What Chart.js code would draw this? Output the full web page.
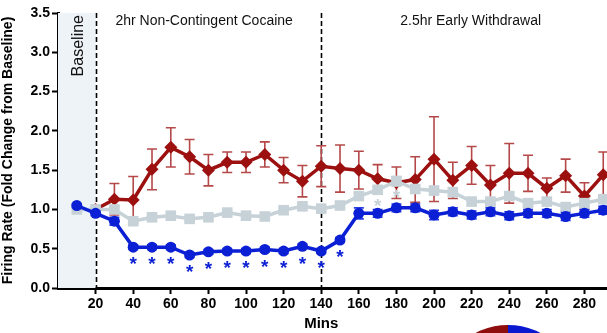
<!DOCTYPE html>
<html>
<head>
<meta charset="utf-8">
<script src="https://cdn.jsdelivr.net/npm/chart.js@4"></script>
<style>
html,body{margin:0;padding:0;background:#fff;}
canvas{display:block;}
</style>
</head>
<body>
<canvas id="c" width="607" height="333"></canvas>
<script>
// ---- data ----
const mins = [10,20,30,40,50,60,70,80,90,100,110,120,130,140,150,160,170,180,190,200,210,220,230,240,250,260,270,280,290];
const redVals  = [null,1.00,1.13,1.12,1.51,1.79,1.67,1.50,1.60,1.60,1.70,1.50,1.36,1.55,1.52,1.50,1.39,1.34,1.38,1.64,1.37,1.56,1.31,1.46,1.46,1.27,1.43,1.17,1.44];
const redErr   = [null,0,0.20,0.30,0.26,0.25,0.22,0.20,0.13,0.13,0.16,0.16,0.20,0.26,0.30,0.24,0.18,0.20,0.29,0.54,0.23,0.24,0.25,0.38,0.23,0.13,0.21,0.17,0.29];
const grayVals = [1.00,1.00,1.00,0.85,0.90,0.92,0.88,0.90,0.96,0.92,0.91,0.99,1.04,1.01,1.05,1.17,1.25,1.36,1.26,1.24,1.22,1.10,1.10,1.17,1.08,1.10,1.03,1.08,1.13];
const grayErr  = [0.02,0.02,0.03,0.03,0.03,0.03,0.03,0.03,0.03,0.03,0.03,0.03,0.04,0.04,0.04,0.05,0.05,0.06,0.05,0.05,0.05,0.04,0.04,0.04,0.04,0.04,0.04,0.04,0.04];
const blueVals = [1.05,0.95,0.85,0.52,0.52,0.52,0.42,0.46,0.47,0.47,0.49,0.47,0.53,0.47,0.61,0.95,0.95,1.02,1.02,0.93,0.97,0.93,0.97,0.92,0.95,0.95,0.91,0.95,0.99];
const blueErr  = [0.02,0.03,0.05,0.03,0.03,0.03,0.03,0.03,0.03,0.03,0.03,0.03,0.03,0.03,0.03,0.07,0.05,0.05,0.05,0.06,0.05,0.05,0.05,0.05,0.05,0.05,0.05,0.05,0.05];
const blueSig = [40,50,60,70,80,90,100,110,120,130,140,150];
const graySig = [170,180];
const xTicks = [20,40,60,80,100,120,140,160,180,200,220,240,260,280];
const yTicks = [0,0.5,1,1.5,2,2.5,3,3.5];
const phaseLines = [20,140];
const baselineRange = [0,20];
const labels = {
  baseline: 'Baseline',
  cocaine: '2hr Non-Contingent Cocaine',
  withdrawal: '2.5hr Early Withdrawal',
  xTitle: 'Mins',
  yTitle: 'Firing Rate (Fold Change from Baseline)'
};

const RED = '#9c1010', RED_ERR = '#b54848';
const GRAY = '#c6d2d7', GRAY_ERR = '#c6d2d7';
const BLUE = '#0b1fd4', BLUE_ERR = '#2a3fe0';

function pts(vals){ return mins.map((m,i)=>({x:m,y:vals[i]})); }

const decor = {
  id:'decor',
  beforeDatasetsDraw(chart){
    const {ctx, chartArea:a, scales:{x,y}} = chart;
    ctx.save();
    ctx.fillStyle = '#eef3f8';
    ctx.fillRect(x.getPixelForValue(baselineRange[0]), a.top, x.getPixelForValue(baselineRange[1]) - x.getPixelForValue(baselineRange[0]), a.bottom - a.top);
    ctx.strokeStyle = '#000'; ctx.lineWidth = 1.6; ctx.setLineDash([5,3]);
    phaseLines.forEach(v=>{
      const px = Math.round(x.getPixelForValue(v))+0.5;
      ctx.beginPath(); ctx.moveTo(px, a.top); ctx.lineTo(px, a.bottom); ctx.stroke();
    });
    ctx.setLineDash([]);
    ctx.fillStyle = '#111';
    ctx.font = '14px "Liberation Sans", Arial, sans-serif';
    ctx.textBaseline = 'alphabetic'; ctx.textAlign = 'left';
    ctx.fillText(labels.cocaine, x.getPixelForValue(30) + 1, 25);
    ctx.fillText(labels.withdrawal, x.getPixelForValue(140) + 79, 25);
    ctx.save();
    ctx.translate(x.getPixelForValue(10) + 6, 15);
    ctx.rotate(-Math.PI/2);
    ctx.font = '16px "Liberation Sans", Arial, sans-serif';
    ctx.textAlign = 'right';
    ctx.fillText(labels.baseline, 0, 0);
    ctx.restore();
    // x title
    ctx.fillStyle = '#000';
    ctx.font = 'bold 15px "Liberation Sans", Arial, sans-serif';
    ctx.textAlign = 'center'; ctx.textBaseline = 'middle';
    ctx.fillText(labels.xTitle, x.getPixelForValue(140), 324);
    ctx.restore();
  },
  beforeDatasetDraw(chart, args){
    const ds = chart.data.datasets[args.index];
    if(!ds.errors) return;
    const {ctx, scales:{x,y}} = chart;
    ctx.save();
    ctx.strokeStyle = ds.errColor; ctx.lineWidth = 1.6;
    ds.data.forEach((p,i)=>{
      const e = ds.errors[i];
      if(p.y==null || !e) return;
      const px = x.getPixelForValue(p.x);
      const y1 = y.getPixelForValue(p.y + e), y2 = y.getPixelForValue(p.y - e);
      ctx.beginPath();
      ctx.moveTo(px, y1); ctx.lineTo(px, y2);
      ctx.moveTo(px-5, y1); ctx.lineTo(px+5, y1);
      ctx.moveTo(px-5, y2); ctx.lineTo(px+5, y2);
      ctx.stroke();
    });
    ctx.restore();
  },
  afterDatasetsDraw(chart){
    const {ctx, scales:{x,y}} = chart;
    ctx.save();
    ctx.font = 'bold 19px "Liberation Sans", Arial, sans-serif';
    ctx.textAlign = 'center'; ctx.textBaseline = 'middle';
    ctx.fillStyle = BLUE;
    blueSig.forEach(m=>{
      const i = mins.indexOf(m);
      ctx.fillText('*', x.getPixelForValue(m), y.getPixelForValue(blueVals[i]) + 18);
    });
    ctx.fillStyle = GRAY;
    graySig.forEach(m=>{
      const i = mins.indexOf(m);
      ctx.fillText('*', x.getPixelForValue(m), y.getPixelForValue(grayVals[i]) + 17);
    });
    ctx.restore();
  },
  afterDraw(chart){
    const ctx = chart.ctx;
    ctx.save();
    const cx = 508, cy = 395, r = 70;
    ctx.fillStyle = '#8e0d0d';
    ctx.beginPath(); ctx.moveTo(cx,cy); ctx.arc(cx,cy,r,Math.PI,1.5*Math.PI); ctx.closePath(); ctx.fill();
    ctx.fillStyle = '#0a18d0';
    ctx.beginPath(); ctx.moveTo(cx,cy); ctx.arc(cx,cy,r,1.5*Math.PI,2*Math.PI); ctx.closePath(); ctx.fill();
    ctx.restore();
  }
};

const tickFont = {family:'"Liberation Sans", Arial, sans-serif', size:14, weight:'bold'};

new Chart(document.getElementById('c'), {
  type:'line',
  data:{
    datasets:[
      {label:'Blue', data:pts(blueVals), errors:blueErr, errColor:BLUE_ERR, borderColor:BLUE, backgroundColor:BLUE, borderWidth:3.5, pointStyle:'circle', pointRadius:5.5, pointBorderWidth:0, tension:0},
      {label:'Gray', data:pts(grayVals), errors:grayErr, errColor:GRAY_ERR, borderColor:GRAY, backgroundColor:GRAY, borderWidth:3.5, pointStyle:'rect', pointRadius:7.5, pointBorderWidth:0, tension:0},
      {label:'Red', data:pts(redVals), errors:redErr, errColor:RED_ERR, borderColor:RED, backgroundColor:RED, borderWidth:3.5, pointStyle:'rectRot', pointRadius:6.5, pointBorderWidth:0, tension:0, spanGaps:false}
    ]
  },
  options:{
    responsive:false, animation:false,
    layout:{autoPadding:false, padding:{top:13, right:0, left:0, bottom:0}},
    plugins:{legend:{display:false}, tooltip:{enabled:false}},
    scales:{
      x:{
        type:'linear', min:0, max:292,
        afterBuildTicks(s){ s.ticks = xTicks.map(v=>({value:v})); },
        afterFit(s){ s.height = 45; s.paddingRight = 0; s.paddingLeft = 0; },
        grid:{display:true, drawOnChartArea:false, drawTicks:true, tickLength:6, tickColor:'#000', tickWidth:2},
        border:{display:true, color:'#000', width:3},
        ticks:{color:'#000', font:tickFont, padding:2, maxRotation:0, autoSkip:false},
        title:{display:false}
      },
      y:{
        min:0, max:3.5,
        afterBuildTicks(s){ s.ticks = yTicks.map(v=>({value:v})); },
        afterFit(s){ s.width = 58; s.paddingTop = 0; s.paddingBottom = 0; },
        grid:{display:true, drawOnChartArea:false, drawTicks:true, tickLength:6, tickColor:'#000', tickWidth:2},
        border:{display:true, color:'#000', width:3},
        ticks:{color:'#000', font:tickFont, padding:2, callback:v=>Number(v).toFixed(1)},
        title:{display:true, text:labels.yTitle, color:'#000', font:{family:tickFont.family, size:14, weight:'bold'}, padding:{top:0,bottom:2}}
      }
    }
  },
  plugins:[decor]
});
</script>
</body>
</html>
